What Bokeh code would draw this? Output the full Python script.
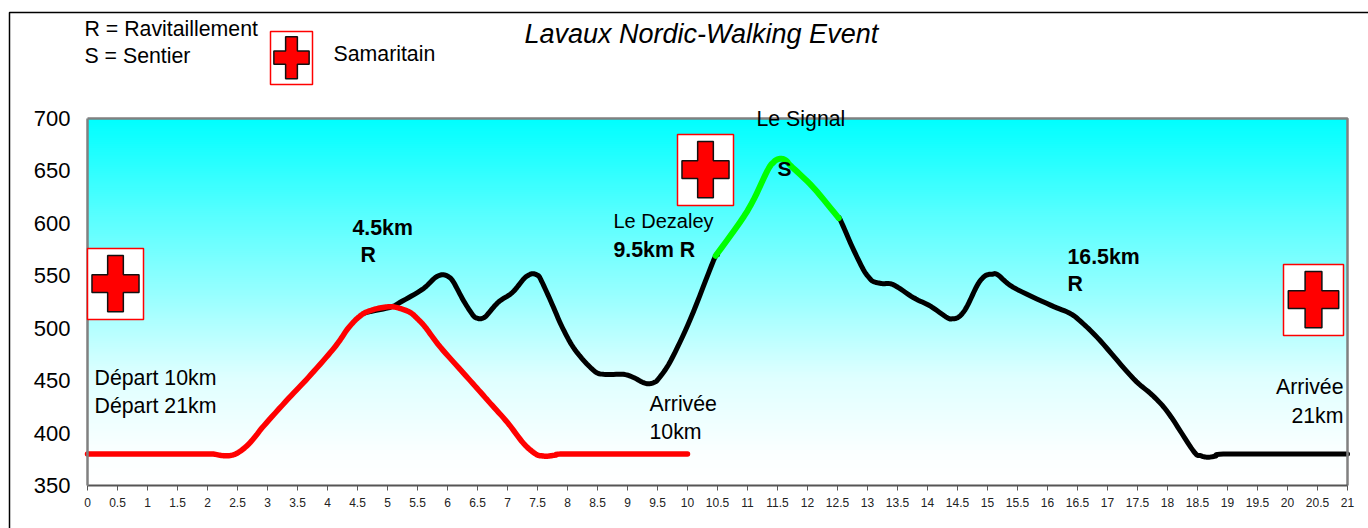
import numpy as np
from bokeh.plotting import figure
from bokeh.models import Range1d, FixedTicker, Label, PolyAnnotation
from bokeh.embed import file_html
from bokeh.resources import INLINE

# ---- data -----------------------------------------------------------------
red_km = [0, 1, 2, 2.1, 2.25, 2.38, 2.5, 2.66, 2.8, 2.94, 3.35, 3.68, 4.05, 4.2, 4.33, 4.47, 4.6, 4.7, 4.85, 5.05,
          5.2, 5.38, 5.5, 5.63, 5.88, 6.27, 6.55, 6.72, 7.0, 7.27, 7.47, 7.57, 7.67, 7.8, 7.93, 9, 10.0]
red_alt = [380, 380, 380, 380, 378.5, 378.6, 381, 388, 397, 407, 433, 453, 477, 488, 499, 508, 514, 516.5, 519, 520.5,
           519, 515, 509, 501, 482, 457, 439, 428, 410, 390, 380, 378.3, 378, 379, 380, 380, 380]

black_km = [4.6, 4.72, 5.05, 5.22, 5.58, 5.77, 5.85, 5.93, 6.02, 6.1, 6.27, 6.43, 6.5, 6.55, 6.62, 6.68, 6.85, 7.08,
            7.27, 7.35, 7.42, 7.5, 7.55, 7.72, 7.92, 8.13, 8.43, 8.6, 8.93, 9.1, 9.25, 9.35, 9.45, 9.52, 9.72, 10.05,
            10.43, 10.5]
black_alt = [514, 516, 520, 525, 537, 547, 550, 551, 549, 544, 526, 512, 509.5, 509, 510.5, 514, 525, 534,
             547, 550.5, 552, 550.5, 547, 526, 500, 479, 460, 456, 456, 453, 448.5, 447, 448.5, 452, 469, 509,
             564, 570]

green_km = [10.47, 11.0, 11.33, 11.43, 11.5, 11.58, 11.65, 11.72, 12.1, 12.52]
green_alt = [569, 612, 650, 658, 661, 661.5, 659.5, 655, 634, 605]

black2_km = [12.52, 12.55, 12.75, 12.93, 13.03, 13.1, 13.25, 13.43, 13.77, 14.05, 14.33, 14.42, 14.5, 14.58, 14.67,
             14.83, 14.93, 15.0, 15.08, 15.17, 15.43, 16.05, 16.38, 16.6, 16.88, 17.43, 17.75, 18.02, 18.43, 18.55,
             18.67, 18.8, 18.93, 20, 21]
black2_alt = [605, 603, 577, 556, 548, 544.5, 542.5, 541.5, 529, 521, 510, 509, 510, 514, 522,
              541, 548.5, 551, 551.5, 551, 539, 522, 514, 504, 488, 452, 436, 418.7, 383, 378.5,
              377, 378, 380, 380, 380]

x_ticks = [i * 0.5 for i in range(43)]
x_tick_labels = ["0", "0.5", "1", "1.5", "2", "2.5", "3", "3.5", "4", "4.5", "5", "5.5", "6", "6.5", "7", "7.5",
                 "8", "8.5", "9", "9.5", "10", "10.5", "11", "11.5", "12", "12.5", "13", "13.5", "14", "14.5",
                 "15", "15.5", "16", "16.5", "17", "17.5", "18", "18.5", "19", "19.5", "20", "20.5", "21"]
y_ticks = [350, 400, 450, 500, 550, 600, 650, 700]

note_texts = ["R = Ravitaillement", "S = Sentier", "Samaritain", "Le Signal", "S", "Le Dezaley", "9.5km R",
              "4.5km", "R", "16.5km", "R", "Départ 10km", "Départ 21km", "Arrivée", "10km", "Arrivée", "21km"]
title_text = "Lavaux Nordic-Walking Event"

# ---- layout (page pixels) ---------------------------------------------------
W, H = 1368, 528
FL, FR, FT, FB = 87, 1347, 118, 485

# page x, page baseline y, bold, align, font px for each note
note_layout = [
    (84, 28, False, "left", 21.3), (84, 55, False, "left", 21.3), (333, 53, False, "left", 21.3),
    (756, 118, False, "left", 21.3), (777, 168, True, "left", 21), (613, 220, False, "left", 20),
    (613, 249, True, "left", 21.3), (352, 227, True, "left", 21.3), (360, 254, True, "left", 21.3),
    (1067, 256, True, "left", 21.3), (1067, 283, True, "left", 21.3), (94, 377, False, "left", 21.3),
    (94, 405, False, "left", 21.3), (649, 403, False, "left", 21.3), (649, 431, False, "left", 21.3),
    (1343, 386, False, "right", 21.3), (1343, 415, False, "right", 21.3),
]
# first-aid icons: page left, top, right, bottom of the box
icons = [(270, 31, 312, 84), (677, 134, 733, 205), (87, 248, 143, 319), (1283, 264, 1343, 335)]


def dx(px):
    return (px - FL) / (FR - FL) * 21


def dy(py):
    return 350 + (FB - py) / (FB - FT) * 350


def smooth(xs, ys, n=8):
    """Draw-time curve through the read points, like a spreadsheet's smoothed line."""
    x, y = np.array(xs, float), np.array(ys, float)
    px = np.r_[x[0], x, x[-1]]
    py = np.r_[y[0], y, y[-1]]
    ox, oy = [], []
    for i in range(1, len(px) - 2):
        for t in np.linspace(0, 1, n, endpoint=False):
            for src, out in ((px, ox), (py, oy)):
                a, b, c, d = src[i - 1], src[i], src[i + 1], src[i + 2]
                out.append(0.5 * (2 * b + (c - a) * t + (2 * a - 5 * b + 4 * c - d) * t ** 2
                                  + (3 * b - a - 3 * c + d) * t ** 3))
    ox.append(x[-1])
    oy.append(y[-1])
    return ox, oy


# The frame fills the whole canvas; the axes sit at fixed locations inside it so
# that the notes above and around the plot are not clipped.
p = figure(width=W, height=H, x_range=Range1d(dx(0), dx(W)), y_range=Range1d(dy(H), dy(0)),
           output_backend="svg", toolbar_location=None, min_border=0,
           background_fill_color="white", border_fill_color="white")
p.grid.visible = False
p.outline_line_color = None

# vertical background gradient, painted top-down so no seams can show
for a in range(700, 350, -2):
    t = np.interp((700 - a) / 350, [0, .25, .5, .7, .9, 1], [0, .33, .62, .87, .98, 1])
    c = "#%02x%02x%02x" % (round(255 * t), 255, 255)
    p.quad(left=0, right=21, top=a, bottom=350, fill_color=c, line_color=None)

for xs, ys, col, lw in ((black_km, black_alt, "black", 5), (black2_km, black2_alt, "black", 5),
                        (green_km, green_alt, "#00ff00", 6), (red_km, red_alt, "#ff0000", 5.5)):
    sx, sy = smooth(xs, ys)
    p.line(sx, sy, line_color=col, line_width=lw, line_join="round", line_cap="round")

# grey frame on the top and right of the plot
p.line([0, 21, 21], [700, 700, 350], line_color="#808080", line_width=2.5)

xa = p.xaxis[0]
xa.fixed_location = 350
xa.bounds = (0, 21)
xa.ticker = FixedTicker(ticks=x_ticks)
xa.major_label_overrides = {t: s for t, s in zip(x_ticks, x_tick_labels)}
xa.major_label_text_font = "Liberation Sans"
xa.major_label_text_font_size = "12px"
xa.major_label_text_color = "#222222"
xa.major_tick_out = 5
xa.major_tick_in = 0
xa.minor_tick_out = 0
xa.minor_tick_in = 0
xa.major_tick_line_color = "#555555"
xa.axis_line_color = "#555555"
xa.axis_line_width = 2
xa.major_label_standoff = 7

ya = p.yaxis[0]
ya.fixed_location = 0
ya.bounds = (350, 700)
ya.ticker = FixedTicker(ticks=y_ticks)
ya.major_label_text_font = "Liberation Sans"
ya.major_label_text_font_size = "22px"
ya.major_label_text_color = "black"
ya.major_tick_out = 0
ya.major_tick_in = 0
ya.minor_tick_out = 0
ya.minor_tick_in = 0
ya.axis_line_color = "#808080"
ya.axis_line_width = 2.5
ya.major_label_standoff = 17

# outer chart border
p.add_layout(PolyAnnotation(xs=[dx(9), dx(1400), dx(1400), dx(9)], ys=[dy(12), dy(12), dy(600), dy(600)],
                            fill_alpha=0, line_color="black", line_alpha=1, line_width=1.5))

# first-aid icons
for l, t, r, b in icons:
    w, h = r - l, b - t
    p.add_layout(PolyAnnotation(xs=[dx(l), dx(r), dx(r), dx(l)], ys=[dy(t), dy(t), dy(b), dy(b)],
                                fill_color="white", fill_alpha=1, line_color="#ff0000", line_alpha=1, line_width=1.5))
    x0, x1 = l + 0.08 * w, r - 0.08 * w
    y0, y1 = t + 0.1 * h, b - 0.11 * h
    cx, cy = (x0 + x1) / 2, (y0 + y1) / 2
    ax, ay = 0.14 * w, 0.125 * h
    px = [cx - ax, cx + ax, cx + ax, x1, x1, cx + ax, cx + ax, cx - ax, cx - ax, x0, x0, cx - ax]
    py = [y0, y0, cy - ay, cy - ay, cy + ay, cy + ay, y1, y1, cy + ay, cy + ay, cy - ay, cy - ay]
    p.add_layout(PolyAnnotation(xs=[dx(v) for v in px], ys=[dy(v) for v in py],
                                fill_color="#ff0000", fill_alpha=1, line_color="#111111", line_alpha=1,
                                line_width=1.5))

for text, (x, y, bold, align, size) in zip(note_texts, note_layout):
    p.add_layout(Label(x=dx(x), y=dy(y), text=text, text_font="Liberation Sans", text_font_size=f"{size}px",
                       text_font_style="bold" if bold else "normal", text_color="black",
                       text_align=align, text_baseline="alphabetic"))

p.add_layout(Label(x=dx(524), y=dy(33), text=title_text, text_font="Liberation Sans", text_font_size="27px",
                   text_font_style="italic", text_color="black", text_align="left", text_baseline="alphabetic"))

open("out.html", "w").write(file_html(p, INLINE))
